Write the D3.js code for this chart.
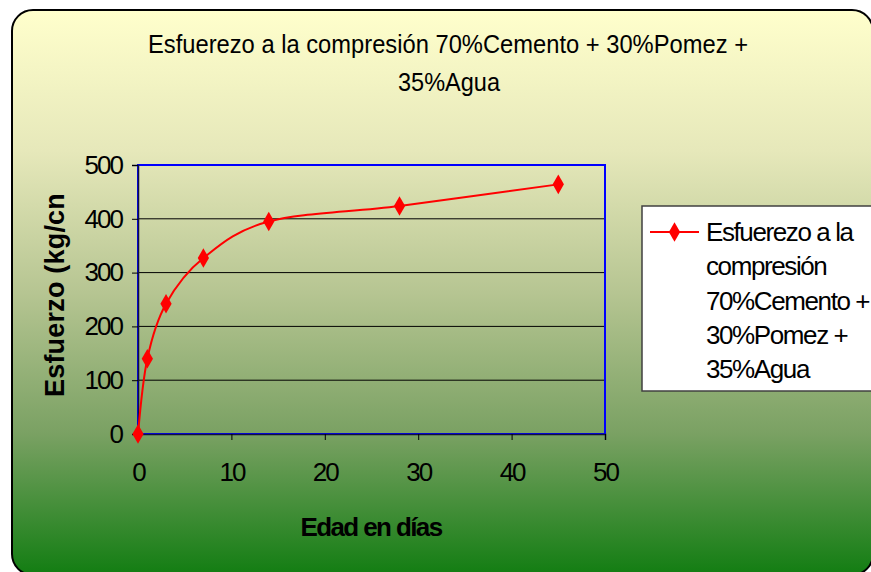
<!DOCTYPE html>
<html>
<head>
<meta charset="utf-8">
<script src="https://cdn.jsdelivr.net/npm/d3@7"></script>
<style>
  html, body { margin: 0; padding: 0; background: #ffffff; }
  svg { display: block; }
  text { font-family: "Liberation Sans", Arial, sans-serif; }
</style>
</head>
<body>
<svg id="chart" width="871" height="572"></svg>
<script>
// Compressive strength vs. age
const days = [0, 1, 3, 7, 14, 28, 45];
const strength = [0, 140, 242, 327, 395, 424, 464];
const xTicks = [0, 10, 20, 30, 40, 50];
const yTicks = [0, 100, 200, 300, 400, 500];
const titleLines = ["Esfuerezo a la compresión 70%Cemento + 30%Pomez +", "35%Agua"];
const legendLines = ["Esfuerezo a la", "compresión", "70%Cemento +", "30%Pomez +", "35%Agua"];
const xTitle = "Edad en días";
const yTitle = "Esfuerzo (kg/cn";

const svg = d3.select("#chart");

// background gradient
const defs = svg.append("defs");
const grad = defs.append("linearGradient")
  .attr("id", "bg").attr("x1", 0).attr("y1", 0).attr("x2", 0).attr("y2", 1);
[[0, "#ffffcc"], [0.25, "#e6e8ba"], [0.5, "#b6c592"], [0.75, "#7aa163"], [1, "#127d12"]]
  .forEach(([o, c]) => grad.append("stop").attr("offset", o).attr("stop-color", c));

svg.append("rect")
  .attr("x", 12).attr("y", 10).attr("width", 861).attr("height", 565)
  .attr("rx", 21).attr("ry", 21)
  .attr("fill", "url(#bg)").attr("stroke", "#000").attr("stroke-width", 2);

// title
const titleG = svg.append("g");
titleG.append("text").attr("x", 448).attr("y", 53).attr("text-anchor", "middle")
  .attr("font-size", 26).attr("textLength", 600).attr("lengthAdjust", "spacingAndGlyphs")
  .text(titleLines[0]);
titleG.append("text").attr("x", 449).attr("y", 91).attr("text-anchor", "middle")
  .attr("font-size", 26).attr("textLength", 102).attr("lengthAdjust", "spacingAndGlyphs")
  .text(titleLines[1]);

// plot area
const plotL = 138, plotR = 605, plotT = 165, plotB = 434;
const x = d3.scaleLinear().domain([0, 50]).range([plotL, plotR]);
const y = d3.scaleLinear().domain([0, 500]).range([plotB, plotT]);

// gridlines
svg.append("g").selectAll("line").data(yTicks.filter(d => d > 0 && d < 500)).join("line")
  .attr("x1", plotL).attr("x2", plotR)
  .attr("y1", d => y(d)).attr("y2", d => y(d))
  .attr("stroke", "#000").attr("stroke-width", 1);

// plot border
svg.append("rect").attr("x", plotL).attr("y", plotT)
  .attr("width", plotR - plotL).attr("height", plotB - plotT)
  .attr("fill", "none").attr("stroke", "#0000ff").attr("stroke-width", 2);

// axes
const xAxis = d3.axisBottom(x).tickValues(xTicks).tickSize(6).tickPadding(23).tickFormat(d3.format("d"));
const gx = svg.append("g").attr("transform", `translate(0,${plotB})`).call(xAxis);
gx.select(".domain").attr("stroke", "#101040").attr("stroke-width", 1.5);
gx.selectAll(".tick line").attr("stroke", "#000");
gx.selectAll(".tick text").attr("font-size", 26).attr("fill", "#000")
  .attr("font-family", "Liberation Sans, Arial, sans-serif").attr("letter-spacing", -2);

const yAxis = d3.axisLeft(y).tickValues(yTicks).tickSize(6).tickPadding(10).tickFormat(d3.format("d"));
const gy = svg.append("g").attr("transform", `translate(${plotL},0)`).call(yAxis);
gy.select(".domain").attr("stroke", "#101040").attr("stroke-width", 1.5);
gy.selectAll(".tick line").attr("stroke", "#000");
gy.selectAll(".tick text").attr("font-size", 26).attr("fill", "#000")
  .attr("font-family", "Liberation Sans, Arial, sans-serif").attr("letter-spacing", -2);

// axis titles
svg.append("text").attr("x", 371).attr("y", 536).attr("text-anchor", "middle")
  .attr("font-size", 26).attr("font-weight", "bold").attr("letter-spacing", -1.6)
  .text(xTitle);
svg.append("text").attr("transform", "translate(64,295) rotate(-90)")
  .attr("text-anchor", "middle").attr("font-size", 27).attr("font-weight", "bold")
  .attr("letter-spacing", 0.2)
  .text(yTitle);

// series
const pts = days.map((d, i) => [d, strength[i]]);
const line = d3.line().x(d => x(d[0])).y(d => y(d[1])).curve(d3.curveCardinal.tension(0));
svg.append("path").attr("d", line(pts))
  .attr("fill", "none").attr("stroke", "#ff0000").attr("stroke-width", 2);

const diamond = d3.symbol().type(d3.symbolDiamond).size(110);
svg.append("g").selectAll("path").data(pts).join("path")
  .attr("transform", d => `translate(${x(d[0])},${y(d[1])})`)
  .attr("d", diamond).attr("fill", "#ff0000");

// legend
const lg = svg.append("g");
lg.append("rect").attr("x", 642).attr("y", 206).attr("width", 260).attr("height", 185)
  .attr("fill", "#ffffff").attr("stroke", "#404040").attr("stroke-width", 1.5);
lg.append("line").attr("x1", 650).attr("x2", 699).attr("y1", 232).attr("y2", 232)
  .attr("stroke", "#ff0000").attr("stroke-width", 2);
lg.append("path").attr("transform", "translate(674.5,232)").attr("d", diamond).attr("fill", "#ff0000");
lg.selectAll("text.leg").data(legendLines).join("text")
  .attr("class", "leg")
  .attr("x", 706).attr("y", (d, i) => 232 + i * 34.2).attr("dy", "0.35em")
  .attr("font-size", 26).attr("letter-spacing", -1.4)
  .text(d => d);
</script>
</body>
</html>
